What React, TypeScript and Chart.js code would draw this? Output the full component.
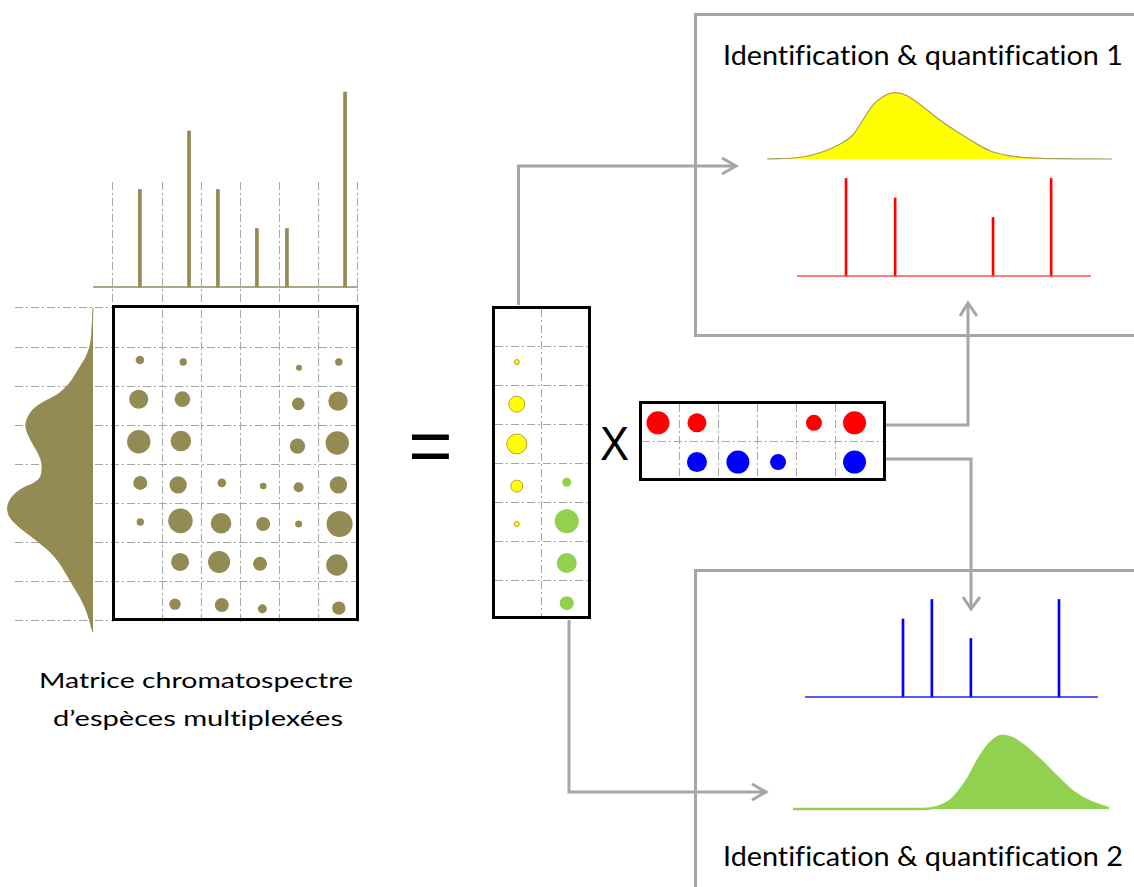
import React, { useEffect, useRef } from "react";
import { Chart, registerables } from "chart.js";
Chart.register(...registerables);

const OLIVE = "#948A54";
const GRID = "#A6A6A6";

// ---------------- DATA ----------------
// shared m/z axis (column units) and retention-time axis (row units)
const mzEdges = [0, 1.26, 2.26, 3.26, 4.26, 5.26, 6.26];
const rtEdges = [0, 1, 2, 3, 4, 5, 6, 7, 8];

// mixture mass spectrum (top of the matrix)
const mixSpecRange = [-0.51, 6.28];
const mixSpecMz = [0.69, 1.95, 2.69, 3.69, 4.46, 5.95];
const mixSpecInt = [50, 80, 50, 30, 30, 100];

// mixture chromatogram (left of the matrix, vertical)
const mixChromRt = [0, 0.38, 1.0, 1.51, 2.1, 2.53, 2.79, 3.04, 3.38, 3.81, 4.14, 4.4, 4.65, 4.91, 5.22, 5.5, 5.93, 6.37, 7.0, 7.65, 8.29];
const mixChromInt = [0, 0.7, 3.3, 13, 30, 57, 65, 67, 62, 53, 51, 55, 73, 83, 85, 78, 57, 38, 22, 8, 0];

// chromatospectral matrix bubbles
const matrixMz = [
  0.69, 1.8, 4.77, 5.79,
  0.66, 1.78, 4.75, 5.77,
  0.66, 1.74, 4.73, 5.75,
  0.7, 1.67, 2.79, 3.85, 4.76, 5.78,
  0.7, 1.73, 2.77, 3.85, 4.76, 5.81,
  1.72, 2.72, 3.77, 5.74,
  1.59, 2.79, 3.83, 5.79,
];
const matrixRt = [
  1.33, 1.38, 1.53, 1.38,
  2.33, 2.33, 2.45, 2.38,
  3.42, 3.4, 3.53, 3.45,
  4.47, 4.52, 4.47, 4.55, 4.58, 4.52,
  5.47, 5.44, 5.5, 5.52, 5.52, 5.52,
  6.49, 6.49, 6.54, 6.57,
  7.57, 7.59, 7.69, 7.67,
];
const matrixSize = [
  4.3, 3.7, 3, 3.7,
  9.5, 7.8, 6.3, 9.7,
  11.7, 10.3, 7.7, 11.7,
  7, 8.7, 4.3, 3.3, 5, 8.7,
  3.7, 12.3, 10.3, 7, 3.5, 13,
  9, 11, 7, 10.7,
  5.7, 7, 4.5, 6.7,
];

// concentration profiles (column matrix)
const species1Rt = [1.41, 2.49, 3.51, 4.59, 5.56];
const species1Size = [2.5, 8, 10, 6, 2.5];
const species2Rt = [4.49, 5.49, 6.56, 7.59];
const species2Size = [4.5, 12, 10, 7];

// spectral profiles (row matrix)
const species1Mz = [0.46, 1.46, 4.46, 5.5];
const species1MzSize = [11.5, 9.5, 8, 11.5];
const species2Mz = [1.46, 2.51, 3.54, 5.5];
const species2MzSize = [10, 11.5, 8, 11.5];
const rowEdges = [1, 2, 3, 4, 5];
const rowRtEdges = [1];
const colEdges = [1];
const colRtEdges = [1, 2, 3, 4, 5, 6, 7];

// identified spectra
const spec1Range = [-0.57, 6.97];
const spec1Mz = [0.69, 1.95, 4.46, 5.95];
const spec1Int = [50, 40, 30, 50];
const spec2Range = [-0.56, 6.95];
const spec2Mz = [1.95, 2.69, 3.69, 5.95];
const spec2Int = [40, 50, 30, 50];

// identified chromatograms
const chrom1T = [0, 9.6, 16.2, 21.2, 24.9, 27.8, 30.7, 33.6, 37.1, 40.6, 45.2, 50.1, 55.1, 59.7, 64.6, 69.6, 74.2, 84.1, 100];
const chrom1Int = [0, 2.6, 11, 22.6, 36.2, 58.8, 81.4, 94, 100, 95.5, 78.9, 58.8, 41.2, 26.1, 12.5, 5.6, 2.6, 0.5, 0];
const chrom2T = [0, 20.3, 41.1, 47.5, 50.6, 55.1, 59.2, 62.3, 66.1, 69.6, 72.8, 78.2, 83.5, 88.6, 94, 100];
const chrom2Int = [0, 0, 0, 5.5, 14.6, 39.6, 71.4, 89.6, 100, 96.5, 87.3, 66.8, 44.1, 23.6, 10, 1];

// ---------------- helpers ----------------
const hidden = (min: number, max: number, reverse = false) => ({ type: "linear", display: false, min, max, reverse, offset: false });
const gridAxis = (min: number, max: number, ticks: number[], reverse = false) => ({
  type: "linear",
  display: true,
  min,
  max,
  reverse,
  offset: false,
  afterBuildTicks: (s: any) => {
    s.ticks = ticks.map((v) => ({ value: v }));
  },
  afterFit: (s: any) => {
    if (s.isHorizontal()) s.height = 0;
    else s.width = 0;
  },
  ticks: { display: false },
  grid: { color: GRID, lineWidth: 1, drawTicks: false, offset: false },
  border: { display: false, dash: [8, 3, 2, 3] },
});
const opts = (x: any, y: any) => ({
  responsive: false,
  animation: false,
  events: [],
  layout: { padding: 0, autoPadding: false },
  plugins: { legend: { display: false }, tooltip: { enabled: false }, title: { display: false } },
  scales: { x, y },
});
const pts = (xs: number[], ys: number[]) => xs.map((x, i) => ({ x, y: ys[i] }));
const bubbles = (xs: number[], ys: number[], rs: number[]) => xs.map((x, i) => ({ x, y: ys[i], r: rs[i] }));

function ChartCanvas({ left, top, width, height, make }: { left: number; top: number; width: number; height: number; make: () => any }) {
  const ref = useRef<HTMLCanvasElement | null>(null);
  useEffect(() => {
    if (!ref.current) return;
    const chart = new Chart(ref.current, make());
    return () => chart.destroy();
  }, []);
  return <canvas ref={ref} width={width} height={height} style={{ position: "absolute", left, top, width, height, display: "block" }} />;
}

const stickChart = (range: number[], mz: number[], inten: number[], color: string, baseColor: string, thick: number, xr: number[], yr: number[]) => ({
  type: "bar",
  data: {
    datasets: [
      { type: "line", data: pts(range, [0, 0]), borderColor: baseColor, borderWidth: 1.5, pointRadius: 0 },
      { type: "bar", data: pts(mz, inten), backgroundColor: color, barThickness: thick, borderWidth: 0 },
    ],
  },
  options: opts(hidden(xr[0], xr[1]), hidden(yr[0], yr[1])),
});

const curveChart = (t: number[], inten: number[], fillColor: string, lineColor: string, lw: number, yr: number[]) => ({
  type: "line",
  data: {
    datasets: [
      {
        data: pts(t, inten),
        borderColor: lineColor,
        borderWidth: lw,
        backgroundColor: fillColor,
        fill: "origin",
        pointRadius: 0,
        cubicInterpolationMode: "monotone",
      },
    ],
  },
  options: opts(hidden(0, 100), hidden(yr[0], yr[1])),
});

export default function App() {
  const stroke = { stroke: GRID, strokeWidth: 3, fill: "none" } as any;
  const txt = { fontVariantLigatures: "none" } as any;
  return (
    <div style={{ position: "absolute", left: 0, top: 0, width: 1134, height: 887, overflow: "hidden", background: "#fff" }}>
      <svg width={1134} height={887} style={{ position: "absolute", left: 0, top: 0 }}>
        <polyline points="1140,14.5 695.5,14.5 695.5,335.5 1140,335.5" {...stroke} />
        <polyline points="1140,570.5 695.5,570.5 695.5,890" {...stroke} />
        <polyline points="518.5,305 518.5,166 735,166" {...stroke} />
        <polyline points="722,158 736,166 722,174" {...stroke} />
        <polyline points="569,620 569,792 765,792" {...stroke} />
        <polyline points="752,784 766,792 752,800" {...stroke} />
        <polyline points="886,425 968,425 968,304" {...stroke} />
        <polyline points="960,316 968,303 977,316" {...stroke} />
        <polyline points="886,459 971,459 971,608" {...stroke} />
        <polyline points="963,597 971,609 980,597" {...stroke} />
        <g fontFamily="Lato" fill="#000" style={txt}>
          <text x={923} y={65} fontSize={26} textAnchor="middle" textLength={400} lengthAdjust="spacingAndGlyphs">
            {"Identification & quantification 1"}
          </text>
          <text x={923} y={866} fontSize={26} textAnchor="middle" textLength={400} lengthAdjust="spacingAndGlyphs">
            {"Identification & quantification 2"}
          </text>
          <text x={196} y={688} fontSize={22} textAnchor="middle" textLength={314} lengthAdjust="spacingAndGlyphs">
            Matrice chromatospectre
          </text>
          <text x={198} y={726} fontSize={22} textAnchor="middle" textLength={290} lengthAdjust="spacingAndGlyphs">
            d’espèces multiplexées
          </text>
        </g>
        <text x={430.5} y={472} fontFamily="Liberation Sans" fontSize={76} textAnchor="middle">
          =
        </text>
        <text x={614.5} y={460} fontFamily="Liberation Sans" fontSize={48} textAnchor="middle" textLength={29} lengthAdjust="spacingAndGlyphs">
          X
        </text>
      </svg>

      {/* background dashed grid shared by spectrum, chromatogram and matrix */}
      <ChartCanvas
        left={15}
        top={182}
        width={343}
        height={440}
        make={() => ({
          type: "scatter",
          data: { datasets: [{ data: [] }] },
          options: opts(gridAxis(-2.5128, 6.2821, mzEdges), gridAxis(-3.2204, 8.0256, rtEdges, true)),
        })}
      />
      {/* mixture spectrum */}
      <ChartCanvas left={93} top={80} width={265} height={210} make={() => stickChart(mixSpecRange, mixSpecMz, mixSpecInt, OLIVE, OLIVE, 3, [-0.5128, 6.2821], [-1.538, 106.15])} />
      {/* mixture chromatogram */}
      <ChartCanvas
        left={0}
        top={300}
        width={100}
        height={340}
        make={() => ({
          type: "line",
          data: {
            datasets: [
              {
                data: pts(mixChromInt, mixChromRt),
                borderColor: OLIVE,
                borderWidth: 1,
                backgroundColor: OLIVE,
                fill: "shape",
                pointRadius: 0,
                tension: 0.4,
              },
            ],
          },
          options: opts(hidden(-7, 93, true), hidden(-0.2045, 8.4856, true)),
        })}
      />
      {/* matrix bubbles */}
      <ChartCanvas
        left={115}
        top={308}
        width={241}
        height={311}
        make={() => ({
          type: "bubble",
          data: { datasets: [{ data: bubbles(matrixMz, matrixRt, matrixSize), backgroundColor: OLIVE, borderWidth: 0 }] },
          options: opts(hidden(0.0513, 6.2308), hidden(0, 7.949, true)),
        })}
      />
      {/* column matrix (concentration profiles) */}
      <ChartCanvas
        left={495}
        top={309}
        width={93}
        height={307}
        make={() => ({
          type: "bubble",
          data: {
            datasets: [
              { data: bubbles(species1Rt.map(() => 0.49), species1Rt, species1Size), backgroundColor: "#FFFF00", borderColor: "#B8A030", borderWidth: 1 },
              { data: bubbles(species2Rt.map(() => 1.5), species2Rt, species2Size), backgroundColor: "#92D050", borderWidth: 0 },
            ],
          },
          options: opts(gridAxis(0.05, 1.93, colEdges), gridAxis(0.05, 7.92, colRtEdges, true)),
        })}
      />
      {/* row matrix (spectral profiles) */}
      <ChartCanvas
        left={642}
        top={404}
        width={241}
        height={74}
        make={() => ({
          type: "bubble",
          data: {
            datasets: [
              { data: bubbles(species1Mz, species1Mz.map(() => 0.51), species1MzSize), backgroundColor: "#FF0000", borderWidth: 0 },
              { data: bubbles(species2Mz, species2Mz.map(() => 1.57), species2MzSize), backgroundColor: "#0000FF", borderWidth: 0 },
            ],
          },
          options: opts(gridAxis(0.051, 6.23, rowEdges), gridAxis(0, 2, rowRtEdges, true)),
        })}
      />
      {/* identified chromatogram 1 */}
      <ChartCanvas left={767} top={85} width={345} height={77} make={() => curveChart(chrom1T, chrom1Int, "#FFFF00", "#A39E5C", 1.2, [-4.52, 111.6])} />
      {/* identified spectrum 1 */}
      <ChartCanvas left={797} top={170} width={294} height={110} make={() => stickChart(spec1Range, spec1Mz, spec1Int, "#FF0000", "#FF5050", 2, [-0.5667, 6.9718], [-2.051, 54.36])} />
      {/* identified spectrum 2 */}
      <ChartCanvas left={805} top={590} width={293} height={110} make={() => stickChart(spec2Range, spec2Mz, spec2Int, "#0000FF", "#2020FF", 2, [-0.5628, 6.95], [-1.538, 54.87])} />
      {/* identified chromatogram 2 */}
      <ChartCanvas left={793} top={725} width={316} height={88} make={() => curveChart(chrom2T, chrom2Int, "#92D050", "#92D050", 2.5, [-5.46, 114.6])} />

      <svg width={1134} height={887} style={{ position: "absolute", left: 0, top: 0, pointerEvents: "none" }}>
        <rect x={113.5} y={306.5} width={244} height={313} stroke="#000" strokeWidth={3} fill="none" />
        <rect x={493.5} y={307.5} width={96} height={310} stroke="#000" strokeWidth={3} fill="none" />
        <rect x={640.5} y={402.5} width={244} height={77} stroke="#000" strokeWidth={3} fill="none" />
      </svg>
    </div>
  );
}
